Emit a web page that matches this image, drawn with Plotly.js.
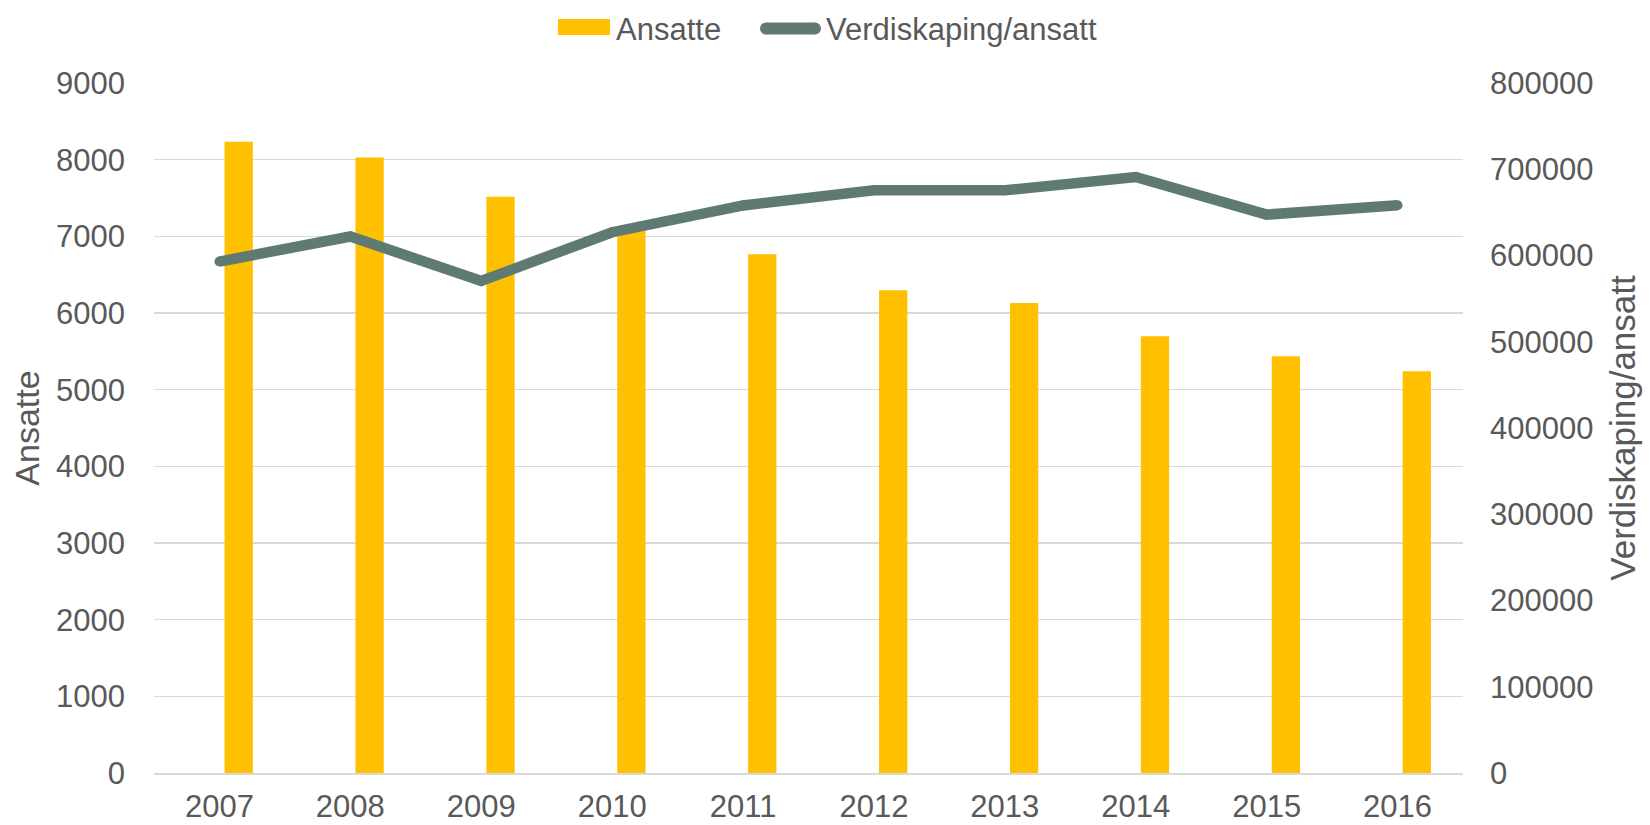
<!DOCTYPE html>
<html>
<head>
<meta charset="utf-8">
<script src="https://cdn.plot.ly/plotly-3.0.1.min.js"></script>
<style>
  html, body { margin: 0; padding: 0; background: #ffffff; }
  #chart { width: 1650px; height: 825px; }
</style>
</head>
<body>
<div id="chart"></div>
<script>
const years = ["2007", "2008", "2009", "2010", "2011", "2012", "2013", "2014", "2015", "2016"];
const ansatte = [8235, 8027, 7515, 7080, 6765, 6296, 6130, 5696, 5435, 5239];
const verdiskaping = [593000, 622000, 570500, 627000, 658000, 675600, 675600, 691000, 647400, 658200];
const leftTicks = [0, 1000, 2000, 3000, 4000, 5000, 6000, 7000, 8000, 9000];
const rightTicks = [0, 100000, 200000, 300000, 400000, 500000, 600000, 700000, 800000];
const seriesNames = ["Ansatte", "Verdiskaping/ansatt"];

const fontFam = 'Liberation Sans, Arial, sans-serif';
const grey = '#595959';
const barColor = '#FFC000';
const lineColor = '#5E7A73';

const W = 1650, H = 825;
const M = { l: 154, r: 187, t: 83, b: 52 };
const pw = W - M.l - M.r, ph = H - M.t - M.b;
const px = v => (v - M.l) / pw;
const py = v => (H - M.b - v) / ph;

const traces = [
  {
    type: 'bar',
    name: seriesNames[0],
    x: years,
    y: ansatte,
    marker: { color: barColor, line: { width: 0 } },
    width: 0.216,
    offset: 0.039,
    hoverinfo: 'skip'
  },
  {
    type: 'scatter',
    mode: 'lines+markers',
    name: seriesNames[1],
    x: years,
    y: verdiskaping,
    yaxis: 'y2',
    line: { color: lineColor, width: 10.5 },
    marker: { color: lineColor, size: 10, line: { width: 0 } },
    hoverinfo: 'skip'
  }
];

// legend drawn manually (swatch sizes like the original)
const shapes = [
  { type: 'rect', xref: 'paper', yref: 'paper', x0: px(558), x1: px(610), y0: py(35), y1: py(19),
    fillcolor: barColor, line: { width: 0 } },
  { type: 'rect', xref: 'paper', yref: 'paper', x0: px(766), x1: px(815), y0: py(34.5), y1: py(22.5),
    fillcolor: lineColor, line: { width: 0 } },
  { type: 'circle', xref: 'paper', yref: 'paper', x0: px(760), x1: px(772), y0: py(34.5), y1: py(22.5),
    fillcolor: lineColor, line: { width: 0 } },
  { type: 'circle', xref: 'paper', yref: 'paper', x0: px(809), x1: px(821), y0: py(34.5), y1: py(22.5),
    fillcolor: lineColor, line: { width: 0 } }
];

const annotations = [
  { text: seriesNames[0], xref: 'paper', yref: 'paper', x: px(614), y: py(29), xanchor: 'left', yanchor: 'middle',
    showarrow: false, font: { family: fontFam, size: 31, color: grey } },
  { text: seriesNames[1], xref: 'paper', yref: 'paper', x: px(824), y: py(29), xanchor: 'left', yanchor: 'middle',
    showarrow: false, font: { family: fontFam, size: 31, color: grey } }
];

const layout = {
  width: W,
  height: H,
  paper_bgcolor: '#ffffff',
  plot_bgcolor: '#ffffff',
  margin: { l: M.l, r: M.r, t: M.t, b: M.b, pad: 0 },
  font: { family: fontFam, color: grey, size: 31 },
  showlegend: false,
  shapes: shapes,
  annotations: annotations,
  xaxis: {
    type: 'category',
    range: [-0.5, 9.5],
    showgrid: false,
    zeroline: false,
    showline: true,
    linecolor: '#D9D9D9',
    linewidth: 2,
    ticks: '',
    ticklabelstandoff: 5,
    tickfont: { family: fontFam, size: 31, color: grey },
    fixedrange: true
  },
  yaxis: {
    range: [0, 9000],
    tickvals: leftTicks,
    ticktext: leftTicks.map(String),
    showgrid: true,
    gridcolor: '#D9D9D9',
    gridwidth: 1.5,
    zeroline: false,
    showline: false,
    ticks: '',
    ticklabelstandoff: 28,
    tickfont: { family: fontFam, size: 31, color: grey },
    title: { text: seriesNames[0], font: { family: fontFam, size: 34, color: grey }, standoff: 6 },
    fixedrange: true
  },
  yaxis2: {
    overlaying: 'y',
    side: 'right',
    range: [0, 800000],
    tickvals: rightTicks,
    ticktext: rightTicks.map(String),
    showgrid: false,
    zeroline: false,
    showline: false,
    ticks: '',
    ticklabelstandoff: 26,
    tickfont: { family: fontFam, size: 31, color: grey },
    title: { text: seriesNames[1], font: { family: fontFam, size: 35, color: grey }, standoff: 18 },
    fixedrange: true
  }
};

Plotly.newPlot('chart', traces, layout, { displayModeBar: false, staticPlot: true });
</script>
</body>
</html>
